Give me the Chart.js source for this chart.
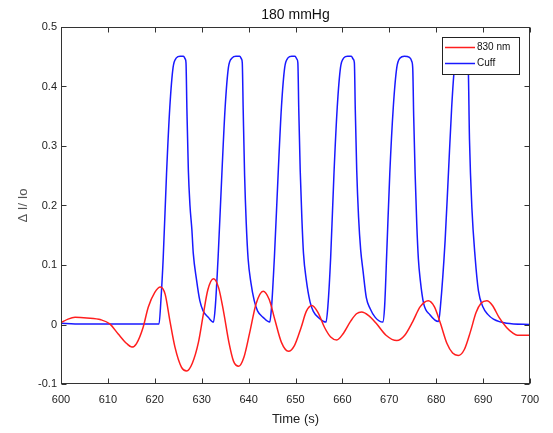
<!DOCTYPE html>
<html>
<head>
<meta charset="utf-8">
<script src="https://cdn.jsdelivr.net/npm/chart.js@4.4.1/dist/chart.umd.min.js"></script>
<style>
  html, body { margin: 0; padding: 0; background: #fff; }
  #wrap { width: 553px; height: 433px; }
</style>
</head>
<body>
<div id="wrap"><canvas id="c" width="553" height="433"></canvas></div>
<script>
// ---- Text ----
const chartTitle = '180 mmHg';
const xAxisTitle = 'Time (s)';
const yAxisTitle = '\u0394 I/ Io';
const seriesNames = ['830 nm', 'Cuff'];

// ---- Ticks ----
const xTickValues = [600, 610, 620, 630, 640, 650, 660, 670, 680, 690, 700];
const xTickLabels = ['600', '610', '620', '630', '640', '650', '660', '670', '680', '690', '700'];
const yTickValues = [-0.1, 0, 0.1, 0.2, 0.3, 0.4, 0.5];
const yTickLabels = ['-0.1', '0', '0.1', '0.2', '0.3', '0.4', '0.5'];

// ---- Series: 830 nm (red) ----
const nirTime = [600, 601.5, 603, 605.5, 608.5, 610.4, 612.2, 614.0, 615.1, 616.1, 617.5, 618.6, 620.0, 621.2, 622.2, 623.2, 624.3, 625.7, 626.8, 628.0, 629.3, 630.3, 631.3, 632.5, 633.6, 634.7, 635.8, 636.8, 637.9, 639.0, 640.2, 641.6, 643.1, 644.4, 645.6, 647.0, 648.5, 649.8, 651.2, 652.3, 653.5, 654.8, 656.2, 657.5, 658.8, 660.2, 661.8, 663.0, 664.1, 665.6, 667.2, 669.3, 671.6, 673.3, 675.0, 676.6, 678.3, 679.6, 680.9, 682.3, 683.5, 684.7, 686.0, 687.3, 688.5, 689.6, 690.8, 692.0, 693.4, 695.0, 696.3, 697.3, 700];
const nirValue = [0.003, 0.009, 0.012, 0.011, 0.008, 0.001, -0.016, -0.032, -0.038, -0.032, -0.005, 0.029, 0.054, 0.063, 0.051, 0.007, -0.038, -0.072, -0.078, -0.065, -0.03, 0.015, 0.058, 0.077, 0.062, 0.02, -0.03, -0.062, -0.070, -0.055, -0.015, 0.035, 0.056, 0.042, 0.008, -0.03, -0.045, -0.035, -0.005, 0.022, 0.032, 0.02, -0.005, -0.021, -0.026, -0.015, 0.006, 0.018, 0.021, 0.015, 0.002, -0.018, -0.027, -0.018, 0.005, 0.030, 0.040, 0.030, 0.002, -0.032, -0.048, -0.052, -0.042, -0.012, 0.020, 0.036, 0.040, 0.032, 0.012, -0.005, -0.014, -0.018, -0.018];

// ---- Series: Cuff (blue) ----
const cuffTime = [600, 603, 607, 611, 615, 618, 620.9, 621.3, 621.8, 622.5, 623.2, 623.9, 624.6, 625.4, 626.1, 626.5, 626.65, 626.85, 627.15, 627.5, 627.9, 628.2, 628.9, 629.6, 630.3, 631.4, 632.5,
  632.9, 633.5, 634.3, 635.0, 635.7, 636.5, 637.3, 638.1, 638.5, 638.65, 638.85, 639.15, 639.5, 639.9, 640.5, 641.2, 641.9, 643.1, 644.5,
  644.9, 645.5, 646.3, 647.0, 647.7, 648.4, 649.2, 649.9, 650.3, 650.5, 650.7, 651.0, 651.35, 651.7, 652.3, 653.1, 653.8, 655.0, 656.5,
  656.9, 657.5, 658.2, 658.9, 659.6, 660.3, 661.1, 661.9, 662.3, 662.55, 662.75, 663.05, 663.45, 663.9, 664.4, 665.1, 665.9, 667.0, 668.6,
  669.0, 669.5, 670.1, 670.85, 671.6, 672.3, 673.2, 674.3, 674.8, 675.0, 675.2, 675.5, 675.85, 676.2, 676.6, 677.3, 678.7, 680.5,
  680.9, 681.9, 682.6, 683.3, 683.9, 684.6, 685.5, 686.4, 686.8, 687.1, 687.6, 688.3, 689.0, 690.0, 691.0, 692.2, 695, 700];
const cuffValue = [0.002, 0.001, 0.001, 0.001, 0.001, 0.001, 0.001, 0.04, 0.113, 0.253, 0.365, 0.432, 0.448, 0.451, 0.451, 0.446, 0.44, 0.36, 0.26, 0.2, 0.16, 0.12, 0.075, 0.04, 0.023, 0.012, 0.004,
  0.03, 0.113, 0.253, 0.365, 0.432, 0.448, 0.451, 0.451, 0.446, 0.44, 0.36, 0.25, 0.17, 0.11, 0.07, 0.04, 0.023, 0.012, 0.004,
  0.03, 0.113, 0.253, 0.365, 0.432, 0.448, 0.451, 0.451, 0.446, 0.44, 0.36, 0.26, 0.18, 0.12, 0.075, 0.038, 0.022, 0.011, 0.004,
  0.03, 0.113, 0.253, 0.365, 0.432, 0.448, 0.451, 0.451, 0.446, 0.44, 0.36, 0.26, 0.18, 0.125, 0.09, 0.045, 0.027, 0.012, 0.004,
  0.03, 0.13, 0.253, 0.365, 0.432, 0.448, 0.451, 0.449, 0.442, 0.43, 0.35, 0.255, 0.17, 0.11, 0.075, 0.036, 0.016, 0.005,
  0.03, 0.141, 0.253, 0.365, 0.432, 0.448, 0.451, 0.448, 0.44, 0.31, 0.197, 0.113, 0.057, 0.029, 0.017, 0.009, 0.002, 0.0];

const toPoints = (ts, vs) => ts.map((t, i) => ({ x: t, y: vs[i] }));

const FONT = '"Liberation Sans", Arial, Helvetica, sans-serif';

const framePlugin = {
  id: 'frame',
  afterDatasetsDraw(chart) {
    const { ctx, chartArea: a, scales: { x, y } } = chart;
    const L = Math.round(a.left) + 0.5, R = Math.round(a.right) - 0.5;
    const T = Math.round(a.top) + 0.5, B = Math.round(a.bottom) - 0.5;
    ctx.save();
    ctx.strokeStyle = '#333';
    ctx.lineWidth = 1;
    ctx.strokeRect(L, T, R - L, B - T);
    ctx.beginPath();
    const tl = 5;
    xTickValues.forEach(v => {
      const px = Math.round(x.getPixelForValue(v)) + 0.5;
      ctx.moveTo(px, B); ctx.lineTo(px, B - tl);
      ctx.moveTo(px, T); ctx.lineTo(px, T + tl);
    });
    yTickValues.forEach(v => {
      const py = Math.round(y.getPixelForValue(v)) + 0.5;
      ctx.moveTo(L, py); ctx.lineTo(L + tl, py);
      ctx.moveTo(R, py); ctx.lineTo(R - tl, py);
    });
    ctx.stroke();

    // legend box (drawn over the data, like the original)
    const bx = 442.5, by = 37.5, bw = 77, bh = 37;
    ctx.fillStyle = '#fff';
    ctx.fillRect(bx, by, bw, bh);
    ctx.strokeStyle = '#222';
    ctx.strokeRect(bx, by, bw, bh);
    ctx.font = '10px ' + FONT;
    ctx.textBaseline = 'middle';
    ctx.textAlign = 'left';
    const rows = [47.5, 63.5];
    chart.data.datasets.forEach((ds, i) => {
      ctx.strokeStyle = ds.borderColor;
      ctx.lineWidth = 1.5;
      ctx.beginPath();
      ctx.moveTo(445, rows[i]); ctx.lineTo(475, rows[i]);
      ctx.stroke();
      ctx.fillStyle = '#111';
      ctx.fillText(ds.label, 477, rows[i]);
    });

    // title
    ctx.fillStyle = '#111';
    ctx.font = '14px ' + FONT;
    ctx.textAlign = 'center';
    ctx.textBaseline = 'middle';
    ctx.fillText(chartTitle, (a.left + a.right) / 2, 15);
    ctx.restore();
  }
};

new Chart(document.getElementById('c'), {
  type: 'line',
  data: {
    datasets: [
      { label: seriesNames[0], data: toPoints(nirTime, nirValue), borderColor: 'rgb(255,30,30)', borderWidth: 1.5, pointRadius: 0, fill: false, cubicInterpolationMode: 'monotone' },
      { label: seriesNames[1], data: toPoints(cuffTime, cuffValue), borderColor: 'rgb(25,25,255)', borderWidth: 1.5, pointRadius: 0, fill: false, cubicInterpolationMode: 'monotone' }
    ]
  },
  options: {
    responsive: false,
    animation: false,
    devicePixelRatio: 1,
    layout: { padding: { top: 27, right: 23, left: 0, bottom: 0 } },
    plugins: { legend: { display: false }, title: { display: false }, tooltip: { enabled: false } },
    scales: {
      x: {
        type: 'linear', min: 600, max: 700,
        afterBuildTicks: s => { s.ticks = xTickValues.map(v => ({ value: v })); },
        afterFit: s => { s.height = 49; },
        grid: { display: false, drawTicks: false },
        border: { display: false },
        ticks: {
          font: { family: FONT, size: 11 }, color: '#222', padding: 9, maxRotation: 0, autoSkip: false,
          callback: v => xTickLabels[xTickValues.indexOf(v)]
        },
        title: { display: true, text: xAxisTitle, font: { family: FONT, size: 13 }, color: '#222', padding: { top: 0, bottom: 6 } }
      },
      y: {
        type: 'linear', min: -0.1, max: 0.5,
        afterBuildTicks: s => { s.ticks = yTickValues.map(v => ({ value: v })); },
        afterFit: s => { s.width = 61; },
        grid: { display: false, drawTicks: false },
        border: { display: false },
        ticks: {
          font: { family: FONT, size: 11 }, color: '#222', padding: 4, autoSkip: false,
          callback: v => { const i = yTickValues.findIndex(t => Math.abs(t - v) < 1e-9); return yTickLabels[i]; }
        },
        title: { display: true, text: yAxisTitle, font: { family: FONT, size: 13 }, color: '#555', padding: { top: 16, bottom: 0 } }
      }
    }
  },
  plugins: [framePlugin]
});
</script>
</body>
</html>
